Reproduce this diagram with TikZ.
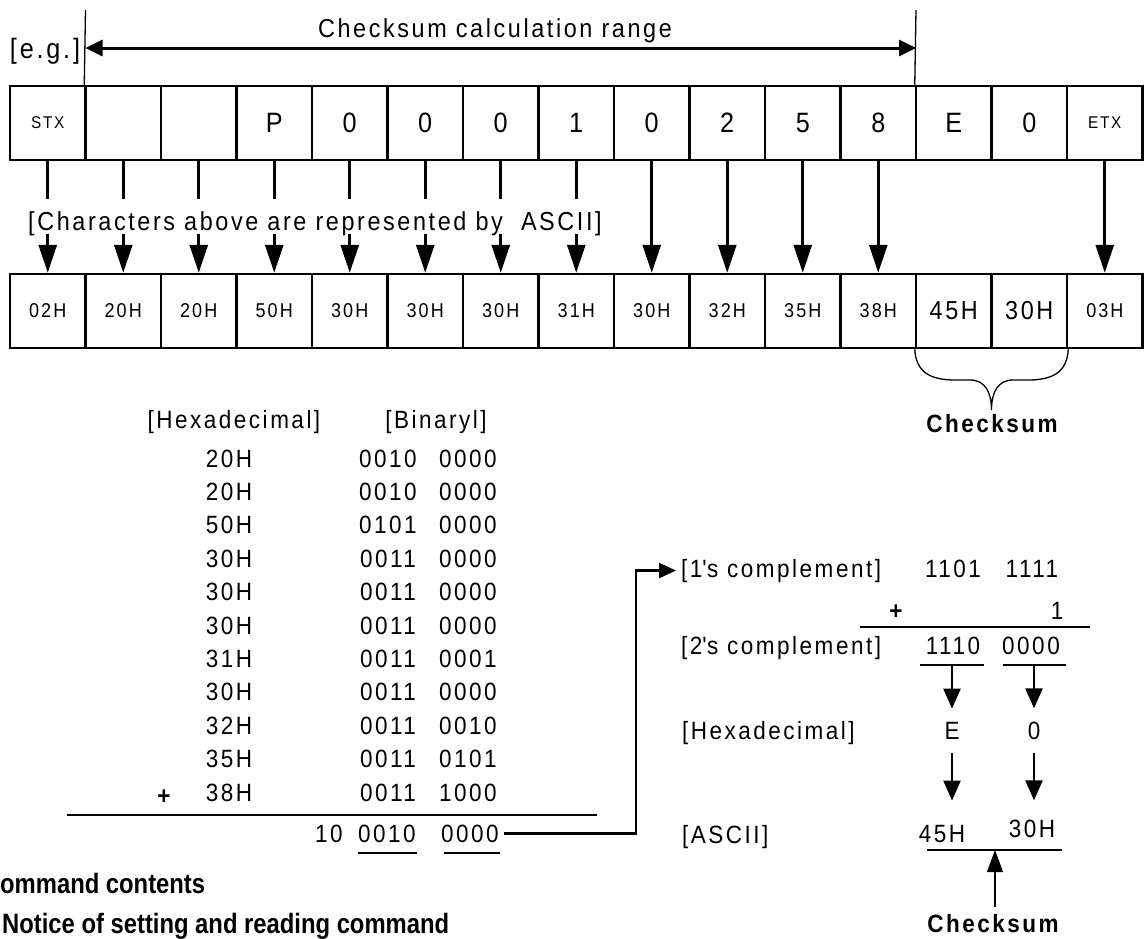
\documentclass[tikz,border=0pt]{standalone}
\usepackage{fontspec}
\setmainfont{Liberation Sans}[FakeStretch=0.9, LetterSpace=10]
\newfontfamily\headfont{Liberation Sans}[FakeStretch=0.85]
\usetikzlibrary{arrows.meta}
\newcommand\setfs[1]{\fontsize{#1pt}{#1pt}\selectfont}

\begin{document}
\begin{tikzpicture}[x=1pt, y=-1pt,
  cell/.style={draw, line width=2.5pt, minimum width=75.5pt, minimum height=74pt, inner sep=0pt},
  txt/.style={font=\setfs{25}, anchor=base, inner sep=0pt},
  lbl/.style={font=\setfs{25}, anchor=base west, inner sep=0pt},
  bigarrow/.style={line width=3pt, -{Triangle[length=28pt, width=18pt]}},
  smallarrow/.style={line width=2.5pt, -{Triangle[length=20pt, width=17pt]}},
  rule/.style={line width=2.5pt},
  thinline/.style={line width=1.3pt},
  bold/.style={font=\setfs{25}\bfseries, anchor=base, inner sep=0pt},
  heading/.style={font=\headfont\bfseries\setfs{28}, anchor=base west, inner sep=0pt}]
\useasboundingbox (0,0) rectangle (1144,938);

% character frame
\foreach \t/\s [count=\i] in {STX/17,{}/28,{}/28,P/28,0/28,0/28,0/28,1/28,0/28,2/28,5/28,8/28,E/28,0/28,ETX/17}
  \node[cell, font=\setfs{\s}] (t\i) at ({10+75.5*\i-37.75},123) {\t};

% ASCII codes of the frame
\foreach \t/\s [count=\i] in {02H/20,20H/20,20H/20,50H/20,30H/20,30H/20,30H/20,31H/20,30H/20,32H/20,35H/20,38H/20,45H/26,30H/26,03H/20}
  \node[cell, font=\setfs{\s}] (b\i) at ({10+75.5*\i-37.75},311) {\t};

\foreach \i in {1,...,12,15}
  \draw[bigarrow] (t\i.south) -- (b\i.north);

\node[lbl, font=\setfs{26}, fill=white, inner ysep=4pt, text height=27pt, text depth=0pt] (note) at (28,230)
  {[Characters above are represented by\ \ ASCII]};

% checksum calculation range
\coordinate (rl) at (85.5,10);
\coordinate (rr) at (916,10);
\coordinate (ral) at (85.5,48);
\coordinate (rar) at (916,48);
\draw[thinline] (t2.north west) -- (rl);
\draw[thinline] (t13.north west) -- (rr);
\draw[line width=3pt, {Triangle[length=17pt, width=16pt]}-{Triangle[length=17pt, width=16pt]}] (ral) -- (rar);
\node[txt, font=\setfs{26}] (range) at (495,37) {Checksum calculation range};
\node[txt, font=\setfs{28}] (eg) at (45,58) {[e.g.]};

% brace under the checksum characters
\coordinate (btip) at (991.5,410);
\draw[thinline] (b13.south west) .. controls (916,372) and (930,380) .. (955,380) -- (970,380)
  .. controls (985,380) and (991.5,392) .. (btip)
  .. controls (991.5,392) and (998,380) .. (1013,380) -- (1028,380)
  .. controls (1053,380) and (1067,372) .. (b14.south east);
\node[bold] (cs1) at (992,432) {Checksum};

% addition table
\node[txt] (hexhead) at (234,428) {[Hexadecimal]};
\node[txt] (binhead) at (436,428) {[Binaryl]};
\foreach \h/\hi/\lo [count=\k from 0] in {20H/0010/0000,20H/0010/0000,50H/0101/0000,30H/0011/0000,30H/0011/0000,30H/0011/0000,31H/0011/0001,30H/0011/0000,32H/0011/0010,35H/0011/0101,38H/0011/1000}{
  \node[txt] (h\k) at (229,{467+33.4*\k}) {\h};
  \node[txt] (p\k) at (388,{467+33.4*\k}) {\hi};
  \node[txt] (q\k) at (468,{467+33.4*\k}) {\lo};
}
\node[txt, font=\setfs{25}\bfseries] (plus1) at (164,804) {+};
\coordinate (s1) at (67,815);
\coordinate (s2) at (597,815);
\draw[rule] (s1) -- (s2);
\node[txt] (r0) at (329,842) {10};
\node[txt] (r1) at (387,842) {0010};
\node[txt] (r2) at (470,842) {0000};
\coordinate (u1a) at (358,853); \coordinate (u1b) at (417,853);
\coordinate (u2a) at (444,853); \coordinate (u2b) at (500,853);
\draw[rule] (u1a) -- (u1b);
\draw[rule] (u2a) -- (u2b);

% complement calculation
\node[lbl] (ones) at (681,577) {[1\textquotesingle s complement]};
\node[txt] (o1) at (953,577) {1101};
\node[txt] (o2) at (1032,577) {1111};
\coordinate (turn) at (636,700);
\draw[line width=2.5pt, -{Triangle[length=17pt, width=15pt]}, shorten >=5pt]
  ([xshift=5pt]r2.east) -| (turn) |- (ones.west);
\node[txt, font=\setfs{25}\bfseries] (plus2) at (896,619) {+};
\node[txt] (one) at (1057,619) {1};
\coordinate (c1) at (860,627);
\coordinate (c2) at (1090,627);
\draw[rule] (c1) -- (c2);
\node[lbl] (twos) at (681,654) {[2\textquotesingle s complement]};
\node[txt] (w1) at (953,654) {1110};
\node[txt] (w2) at (1031,654) {0000};
\coordinate (v1a) at (920,665); \coordinate (v1b) at (984,665);
\coordinate (v2a) at (1003,665); \coordinate (v2b) at (1066,665);
\draw[rule] (v1a) -- (v1b);
\draw[rule] (v2a) -- (v2b);
\coordinate (v1m) at (952,665);
\coordinate (v2m) at (1034,665);

\node[lbl] (hexlbl) at (682,739) {[Hexadecimal]};
\node[txt] (hE) at (952,739) {E};
\node[txt] (h0) at (1034,739) {0};
\draw[smallarrow, shorten >=13pt] (v1m) -- (hE.north);
\draw[smallarrow, shorten >=13pt] (v2m) -- (h0.north);

\node[lbl] (asclbl) at (682,843) {[ASCII]};
\node[txt] (a45) at (942,842) {45H};
\node[txt] (a30) at (1032,837) {30H};
\draw[smallarrow, shorten <=14pt, shorten >=24pt] (hE.south) -- (hE.south |- a45.north);
\draw[smallarrow, shorten <=14pt, shorten >=19pt] (h0.south) -- (h0.south |- a30.north);
\coordinate (k1) at (927,850);
\coordinate (k2) at (1062,850);
\coordinate (kmid) at (995,850);
\draw[rule] (k1) -- (k2);
\node[bold] (cs2) at (993,932) {Checksum};
\draw[thinline, -{Triangle[length=22pt, width=16pt]}] (cs2.north -| kmid) ++(0,-7) -- (kmid);

% section headings
\node[heading] (sec1) at (0,893) {ommand contents};
\node[heading] (sec2) at (2,933) {Notice of setting and reading command};
\end{tikzpicture}
\end{document}
